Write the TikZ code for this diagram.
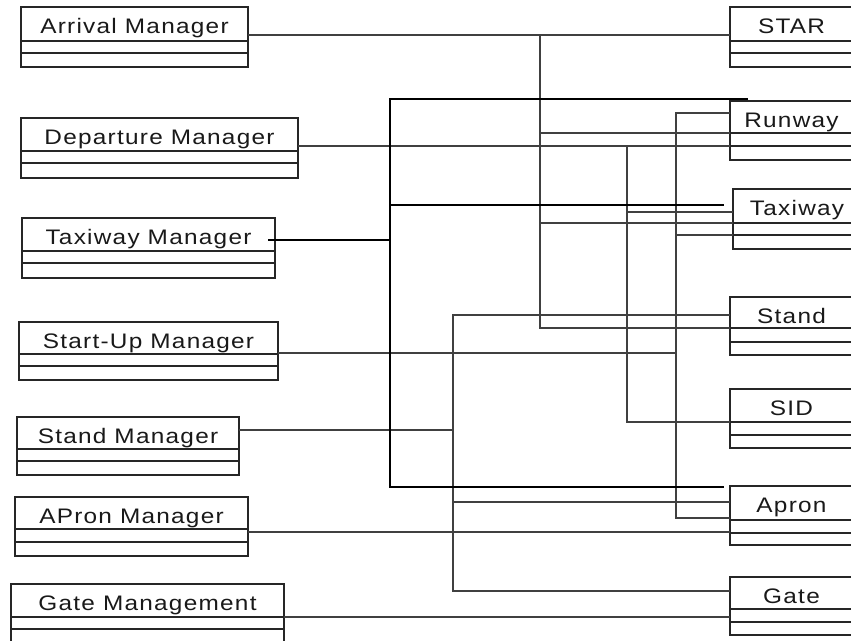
\documentclass[tikz,border=0pt]{standalone}
\usepackage{fontspec}
\setmainfont{Liberation Sans}[FakeStretch=1.16,LetterSpace=6]
\begin{document}
\begin{tikzpicture}[x=1pt,y=-1pt,
  classbox/.style={draw=black!85, line width=1.3pt, rectangle, inner sep=0pt,
    outer sep=0pt, anchor=north west},
  boxrule/.style={draw=black!85, line width=1.3pt},
  classname/.style={anchor=base, inner sep=0pt, text=black!90,
    font=\fontsize{21}{25}\selectfont},
  link/.style={draw=black!75, line width=1.3pt},
  boldlink/.style={draw=black, line width=2pt}]

% class box: name, left, right, top, first rule, second rule, bottom, title
\newcommand\umlclass[8]{%
  \node[classbox, minimum width=#3-#2, minimum height=#7-#4] (#1) at (#2,#4) {};
  \draw[boxrule] (#2,#5) -- (#3,#5) (#2,#6) -- (#3,#6);
  \node[classname] (#1-name) at ({(#2+#3)/2},#4+26) {#8};
}

\useasboundingbox (0,0) rectangle (851,640);
\clip (0,0) rectangle (851,640);

% managers
\umlclass{arr}{21}{248}{7}{41}{53}{67}{Arrival Manager}
\umlclass{dep}{21}{298}{118}{151}{163}{178}{Departure Manager}
\umlclass{tm}{22}{275}{218}{251}{263}{278}{Taxiway Manager}
\umlclass{su}{19}{278}{322}{354}{366}{380}{Start-Up Manager}
\umlclass{sm}{17}{239}{417}{449}{461}{475}{Stand Manager}
\umlclass{am}{15}{248}{497}{529}{542}{556}{APron Manager}
\umlclass{gm}{11}{284}{584}{617}{629}{645}{Gate Management}

% resources
\umlclass{star}{730}{853}{7}{41}{53}{67}{STAR}
\umlclass{runway}{730}{853}{101}{133}{146}{160}{Runway}
\umlclass{taxi}{733}{861}{189}{223}{235}{249}{Taxiway}
\umlclass{stand}{730}{853}{297}{328}{342}{355}{Stand}
\umlclass{sid}{730}{853}{389}{422}{435}{448}{SID}
\umlclass{apron}{730}{853}{486}{520}{533}{545}{Apron}
\umlclass{gate}{730}{853}{577}{609}{622}{635}{Gate}

% Arrival Manager
\draw[link] (arr.east |- 0,35) -- (star.west |- 0,35);
\draw[link] (540,35) -- (540,328) -- (stand.west |- 0,328);
\draw[link] (540,133) -- (runway.west |- 0,133);
\draw[link] (540,223) -- (taxi.west |- 0,223);

% Departure Manager
\draw[link] (dep.east |- 0,146) -- (runway.west |- 0,146);
\draw[link] (627,146) -- (627,422) -- (sid.west |- 0,422);
\draw[link] (627,212) -- (taxi.west |- 0,212);

% Start-Up Manager
\draw[link] (su.east |- 0,353) -- (676,353);
\draw[link] (runway.west |- 0,113) -- (676,113) -- (676,518) -- (apron.west |- 0,518);
\draw[link] (676,235) -- (taxi.west |- 0,235);

% Stand Manager
\draw[link] (sm.east |- 0,430) -- (453,430);
\draw[link] (stand.west |- 0,315) -- (453,315) -- (453,591) -- (gate.west |- 0,591);
\draw[link] (453,502) -- (apron.west |- 0,502);

% APron Manager and Gate Management
\draw[link] (am.east |- 0,532) -- (apron.west |- 0,532);
\draw[link] (gm.east |- 0,617) -- (gate.west |- 0,617);

% Taxiway Manager
\draw[boldlink] ([xshift=-7pt]tm.east |- 0,240) -- (390,240);
\draw[boldlink] ([xshift=18pt]runway.west |- 0,99) -- (390,99) -- (390,487)
  -- ([xshift=-6pt]apron.west |- 0,487);
\draw[boldlink] (390,205) -- ([xshift=-9pt]taxi.west |- 0,205);
\end{tikzpicture}
\end{document}
